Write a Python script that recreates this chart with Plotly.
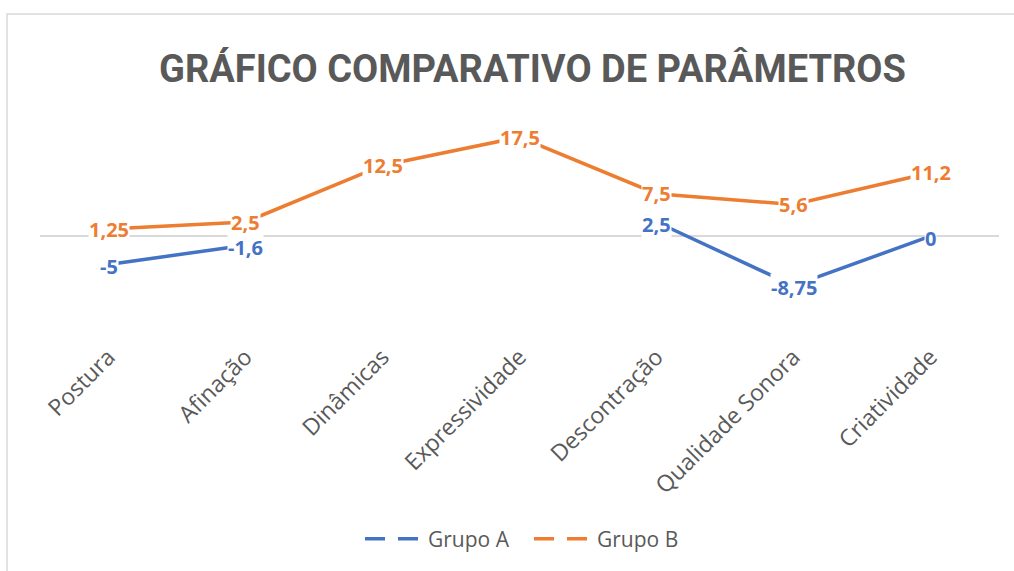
import plotly.graph_objects as go

categories = ["Postura", "Afinação", "Dinâmicas", "Expressividade",
              "Descontração", "Qualidade Sonora", "Criatividade"]
grupo_a = [-5, -1.6, None, None, 2.5, -8.75, 0]
grupo_b = [1.25, 2.5, 12.5, 17.5, 7.5, 5.6, 11.2]
series_names = ["Grupo A", "Grupo B"]
colors = ["#4472C4", "#ED7D31"]
title_text = "GRÁFICO COMPARATIVO DE PARÂMETROS"

W, H = 1014, 571
Y_MIN, Y_MAX = -18, 20
L, R, T = 40, 15, 123
ph = round((Y_MAX - Y_MIN) * (237 - T) / Y_MAX)
B = H - T - ph
pw = W - L - R

fig = go.Figure()
for name, vals, col in zip(series_names, [grupo_a, grupo_b], colors):
    fig.add_trace(go.Scatter(x=categories, y=vals, mode="lines", name=name,
                             line=dict(color=col, width=3.5), connectgaps=False,
                             showlegend=False, hoverinfo="skip"))
for name, col in zip(series_names, colors):
    fig.add_trace(go.Scatter(x=[None], y=[None], mode="lines", name=name,
                             line=dict(color=col, width=3.5, dash="20px,13px")))

def fmt(v):
    return f"{v:g}".replace(".", ",")

annotations = []
for vals, col, ys in zip([grupo_a, grupo_b], colors, [-2, 0]):
    for c, v in zip(categories, vals):
        if v is None:
            continue
        annotations.append(dict(x=c, y=v, xref="x", yref="y", text=fmt(v),
                                showarrow=False, bgcolor="white", borderpad=0, yshift=ys,
                                font=dict(family="Open Sans", size=20, color=col, weight="bold")))

annotations.append(dict(x=(532 - L) / pw, y=(T + ph - 68) / ph, xref="paper", yref="paper",
                        text=f"<b>{title_text}</b>", showarrow=False,
                        font=dict(family="Roboto", size=38, color="#595959"),
                        xanchor="center", yanchor="middle"))

fig.update_layout(
    width=W, height=H,
    margin=dict(l=L, r=R, t=T, b=B),
    paper_bgcolor="white", plot_bgcolor="white",
    annotations=annotations,
    xaxis=dict(type="category", range=[-0.5, 6.5], showgrid=False, showline=False,
               zeroline=False, ticks="", tickangle=-45,
               tickfont=dict(family="Open Sans", size=23, color="#595959")),
    yaxis=dict(range=[Y_MIN, Y_MAX], showgrid=False, showticklabels=False, ticks="",
               zeroline=True, zerolinecolor="#D9D9D9", zerolinewidth=1.5, showline=False),
    legend=dict(orientation="h", x=(529 - L) / pw, xanchor="center", y=(T + ph - 543) / ph,
                yanchor="middle", itemwidth=58, entrywidth=96, entrywidthmode="pixels",
                font=dict(family="Open Sans", size=21, color="#595959")),
    shapes=[dict(type="rect", xref="paper", yref="paper",
                 x0=(7 - L) / pw, x1=(W + 20 - L) / pw,
                 y0=(T + ph - 13) / ph, y1=(T + ph - H - 20) / ph,
                 line=dict(color="#D9D9D9", width=1.5), fillcolor="rgba(0,0,0,0)", layer="below")],
)

fig.write_html("out.html", config={"displayModeBar": False},
               post_script="document.body.style.margin='0';")
